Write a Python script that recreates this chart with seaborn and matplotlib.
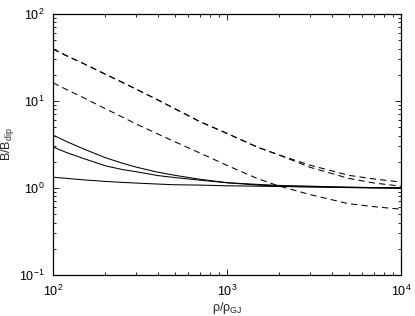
import numpy as np
import pandas as pd
import matplotlib
matplotlib.use('Agg')
import matplotlib.pyplot as plt
import seaborn as sns

# rho / rho_GJ sample points
rho = [100, 120, 150, 200, 250, 300, 400, 500, 700, 1000, 1500, 2000, 3000, 5000, 7000, 10000]

# dashed curves (two upper ones coincide at small rho)
dash_a = [39.6, 33.0, 26.9, 20.3, 16.4, 13.7, 10.3, 8.18, 5.78, 4.24, 2.94, 2.39, 1.83, 1.40, 1.27, 1.17]
dash_b = [39.6, 33.0, 26.9, 20.3, 16.4, 13.7, 10.3, 8.18, 5.78, 4.24, 2.94, 2.39, 1.73, 1.29, 1.14, 1.05]
dash_c = [16.2, 13.5, 10.9, 8.15, 6.55, 5.45, 4.18, 3.41, 2.52, 1.82, 1.28, 1.05, 0.84, 0.66, 0.61, 0.57]

# solid curves
solid_1 = [4.06, 3.41, 2.81, 2.23, 1.93, 1.74, 1.52, 1.40, 1.26, 1.15, 1.08, 1.05, 1.03, 1.02, 1.01, 1.01]
solid_2 = [2.96, 2.55, 2.18, 1.80, 1.63, 1.54, 1.39, 1.32, 1.23, 1.15, 1.10, 1.07, 1.05, 1.02, 1.01, 1.00]
solid_3 = [1.33, 1.29, 1.24, 1.19, 1.16, 1.14, 1.11, 1.09, 1.08, 1.06, 1.05, 1.04, 1.03, 1.01, 1.00, 0.99]

sns.set_style('ticks')
plt.rcParams['font.family'] = ['Liberation Sans', 'DejaVu Sans']
plt.rcParams['mathtext.fontset'] = 'custom'
plt.rcParams['mathtext.rm'] = 'Liberation Sans'
plt.rcParams['mathtext.it'] = 'Liberation Sans:italic'
plt.rcParams['mathtext.default'] = 'regular'

fig = plt.figure(figsize=(4.15, 3.16), dpi=100)
ax = fig.add_axes([53 / 415, 1 - 275 / 316, 348 / 415, 261 / 316])

curves = {'a': dash_a, 'b': dash_b, 'c': dash_c,
          's1': solid_1, 's2': solid_2, 's3': solid_3}
for name, vals in curves.items():
    df = pd.DataFrame({'rho': rho, 'B': vals})
    ls = '-' if name.startswith('s') else (0, (6, 4))
    sns.lineplot(data=df, x='rho', y='B', ax=ax, color='black',
                 linewidth=0.75, linestyle=ls)

ax.set_xscale('log')
ax.set_yscale('log')
ax.set_xlim(1e2, 1e4)
ax.set_ylim(1e-1, 1e2)

ax.tick_params(which='both', direction='in', top=True, right=True,
               labelsize=9, width=0.6, colors='black')
ax.tick_params(which='major', length=4, pad=6)
ax.tick_params(which='minor', length=2)
for s in ax.spines.values():
    s.set_linewidth(0.9)
    s.set_color('black')

ax.set_xlabel(r'ρ/ρ$_{GJ}$', fontsize=9, labelpad=1)
ax.set_ylabel(r'B/B$_{dip}$', fontsize=9, labelpad=2)

fig.savefig('out.png', dpi=100)
